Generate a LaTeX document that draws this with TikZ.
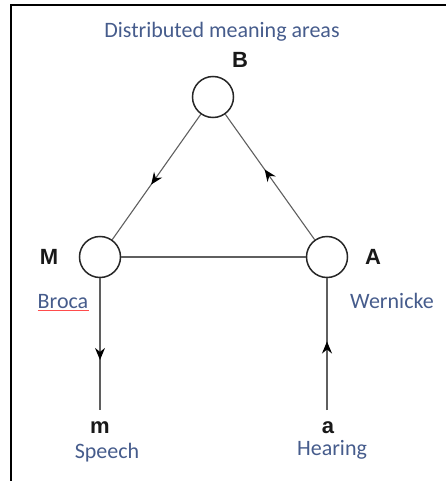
\documentclass[tikz,border=0pt]{standalone}
\usepackage{fontspec}
\setmainfont{Carlito}
\newfontfamily\arialb{Liberation Sans}
\usetikzlibrary{arrows.meta,decorations.markings}
\definecolor{txtblue}{RGB}{70,92,140}
\definecolor{linegray}{RGB}{95,95,95}
\tikzset{
  area/.style={circle,draw=black!85,line width=1.5pt,minimum size=41pt,inner sep=0pt},
  letter/.style={font=\arialb\bfseries\fontsize{22}{22}\selectfont,text=black!90,inner sep=0pt},
  caption/.style={font=\fontsize{22}{22}\selectfont,text=txtblue,inner sep=0pt,anchor=base},
  conn/.style={draw=linegray,line width=1.1pt},
  midarrow/.style={postaction={decorate},decoration={markings,
     mark=at position #1 with {\arrow[black]{Stealth[length=12pt,width=10pt,inset=4pt]}}}}
}
\begin{document}
\begin{tikzpicture}[x=1pt,y=-1pt]
\useasboundingbox (0,0) rectangle (446,481);
\draw[line width=1.6pt,black] (11,481) -- (11,5) -- (446,5);
% areas
\node[area] (B) at (213,97) {};
\node[area] (M) at (100,257) {};
\node[area] (A) at (327,257) {};
% letters
\node[letter] (Bl) at (240,60) {B};
\node[letter] (Ml) at (49,257) {M};
\node[letter] (Al) at (373,257) {A};
\node[letter] (ml) at (100,428) {m};
\node[letter] (al) at (328,428) {a};
% captions
\node[caption] (dist) at (222,38) {Distributed meaning areas};
\node[caption] (broca) at (63,308) {Broca};
\node[caption] (wern) at (392,308) {Wernicke};
\node[caption] (speech) at (107,458) {Speech};
\node[caption] (hear) at (332,455) {Hearing};
\draw[red!70,line width=0.7pt] (broca.base west) ++(0,2.5) -- ++(51,0);
% end points
\coordinate (mEnd) at (100,410);
\coordinate (aEnd) at (327,410);
% connectors
\draw[conn,midarrow=0.56] (B) -- (M);
\draw[conn,midarrow=0.56] (A) -- (B);
\draw[conn] (M) -- (A);
\draw[conn,midarrow=0.62] (M) -- (mEnd);
\draw[conn,midarrow=0.52] (aEnd) -- (A);
\end{tikzpicture}
\end{document}
